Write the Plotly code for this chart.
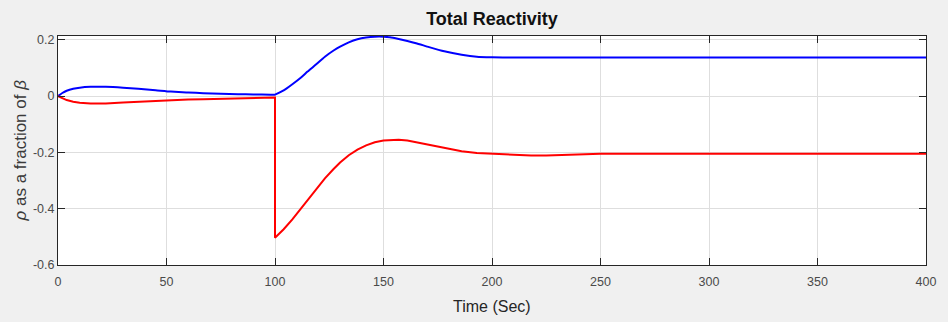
import plotly.graph_objects as go

# Time (s) – shared by both series (step at t = 100 s appears twice)
time_s = [0, 2, 4, 7, 10, 15, 22, 30, 37, 45, 52, 60, 67, 75, 83, 90, 98, 100,
          100, 104, 108, 112, 115, 119, 123, 127, 130, 134, 138, 142, 146, 150,
          153, 157, 161, 165, 171, 178, 186, 193, 200, 210, 218, 225, 232, 240,
          250, 270, 300, 330, 360, 400]

blue_rho = [0, 0.011, 0.019, 0.026, 0.030, 0.033, 0.033, 0.030, 0.026, 0.021,
            0.016, 0.013, 0.010, 0.008, 0.007, 0.006, 0.005, 0.005,
            0.005, 0.020, 0.042, 0.066, 0.087, 0.113, 0.140, 0.162, 0.176,
            0.191, 0.202, 0.208, 0.211, 0.211, 0.209, 0.203, 0.196, 0.188,
            0.174, 0.159, 0.147, 0.140, 0.138, 0.137, 0.137, 0.137, 0.137,
            0.137, 0.137, 0.137, 0.137, 0.137, 0.137, 0.137]

red_rho = [0, -0.008, -0.014, -0.020, -0.024, -0.026, -0.026, -0.023, -0.020,
           -0.017, -0.014, -0.012, -0.011, -0.009, -0.007, -0.006, -0.005,
           -0.005, -0.503, -0.473, -0.438, -0.400, -0.370, -0.330, -0.292,
           -0.259, -0.236, -0.210, -0.190, -0.175, -0.164, -0.158, -0.156,
           -0.155, -0.158, -0.164, -0.174, -0.185, -0.196, -0.202, -0.205,
           -0.210, -0.211, -0.211, -0.209, -0.207, -0.205, -0.205, -0.205,
           -0.205, -0.205, -0.205]

x_ticks = [0, 50, 100, 150, 200, 250, 300, 350, 400]
y_ticks = [-0.6, -0.4, -0.2, 0, 0.2]
y_tick_text = ["-0.6", "-0.4", "-0.2", "0", "0.2"]

FONT = "Liberation Sans, Arial, Helvetica, sans-serif"
AX = "#262626"

fig = go.Figure()
fig.add_trace(go.Scatter(x=time_s, y=blue_rho, mode="lines",
                         line=dict(color="#0000ff", width=2, shape="spline",
                                   smoothing=0.5),
                         showlegend=False))
fig.add_trace(go.Scatter(x=time_s, y=red_rho, mode="lines",
                         line=dict(color="#ff0000", width=2), showlegend=False))

axis_common = dict(showline=True, linecolor=AX, linewidth=1, mirror="ticks",
                   ticks="inside", ticklen=7, tickcolor=AX, tickwidth=1,
                   showgrid=True, gridcolor="#dedede", gridwidth=1,
                   zeroline=False,
                   tickfont=dict(family=FONT, size=12.5, color="#4a4a4a"))

fig.update_xaxes(range=[0, 400], tickvals=x_ticks,
                 ticktext=[str(v) for v in x_ticks], ticklabelstandoff=5,
                 **axis_common)
fig.update_yaxes(range=[-0.6, 0.2135], tickvals=y_ticks, ticktext=y_tick_text,
                 **axis_common)

fig.update_layout(
    width=948, height=322,
    margin=dict(l=58, r=16, t=36, b=57),
    paper_bgcolor="#f0f0f0", plot_bgcolor="#ffffff",
    title=dict(text="<b>Total Reactivity</b>", x=0.5, xref="paper",
               xanchor="center", y=1 - 19 / 322, yref="container",
               yanchor="middle",
               font=dict(family=FONT, size=18, color="#111111")),
    annotations=[
        dict(text="Time (Sec)", xref="paper", yref="paper", x=0.5, y=0,
             xanchor="center", yanchor="middle", yshift=-41, showarrow=False,
             font=dict(family=FONT, size=16, color="#262626")),
        dict(text="<i>ρ</i> as a fraction of <i>β</i>", xref="paper",
             yref="paper", x=0, y=0.5, xanchor="center", yanchor="middle",
             xshift=-38, textangle=-90, showarrow=False,
             font=dict(family=FONT, size=17, color="#3a3a3a")),
    ],
)

fig.write_html("out.html")
